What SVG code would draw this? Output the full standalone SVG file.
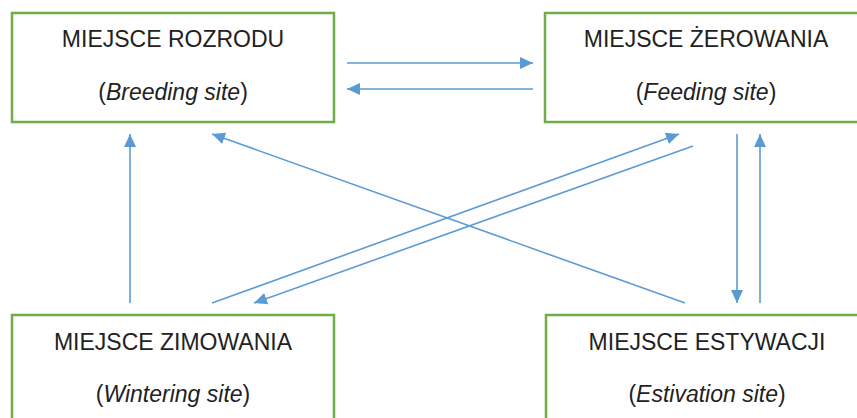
<svg xmlns="http://www.w3.org/2000/svg" width="857" height="418" viewBox="0 0 857 418">
<style>
.box{fill:#fff;stroke:#70AD47;stroke-width:2.5}
.t{font-family:"Liberation Sans",Arial,sans-serif;font-size:23px;fill:#222;text-anchor:middle}
.i{font-style:italic}
.c{stroke:#5B9BD5;stroke-width:1.6;fill:none;marker-end:url(#ah)}
</style>
<defs>
<marker id="ah" markerUnits="userSpaceOnUse" markerWidth="14" markerHeight="12" refX="13" refY="6" orient="auto">
<path d="M0,0 L13,6 L0,12 Z" fill="#5B9BD5"/>
</marker>
</defs>
<g id="breeding">
<rect class="box" x="12" y="13" width="322" height="109"/>
<text class="t" x="173" y="47">MIEJSCE ROZRODU</text>
<text class="t" x="173" y="100">(<tspan class="i">Breeding site</tspan>)</text>
</g>
<g id="feeding">
<rect class="box" x="545" y="13" width="322" height="109"/>
<text class="t" x="706" y="47">MIEJSCE ŻEROWANIA</text>
<text class="t" x="706" y="100">(<tspan class="i">Feeding site</tspan>)</text>
</g>
<g id="wintering">
<rect class="box" x="12" y="315" width="322" height="120"/>
<text class="t" x="173" y="350">MIEJSCE ZIMOWANIA</text>
<text class="t" x="173" y="402">(<tspan class="i">Wintering site</tspan>)</text>
</g>
<g id="estivation">
<rect class="box" x="546" y="315" width="322" height="120"/>
<text class="t" x="707" y="350">MIEJSCE ESTYWACJI</text>
<text class="t" x="707" y="402">(<tspan class="i">Estivation site</tspan>)</text>
</g>
<g id="connectors">
<line class="c" x1="347" y1="63" x2="533" y2="63"/>
<line class="c" x1="533" y1="89" x2="347" y2="89"/>
<line class="c" x1="130" y1="303" x2="130" y2="134"/>
<line class="c" x1="737" y1="134" x2="737" y2="303"/>
<line class="c" x1="760" y1="303" x2="760" y2="134"/>
<line class="c" x1="685" y1="303" x2="212" y2="134"/>
<line class="c" x1="212" y1="303" x2="679" y2="134"/>
<line class="c" x1="693" y1="146" x2="254" y2="303"/>
</g>
</svg>
